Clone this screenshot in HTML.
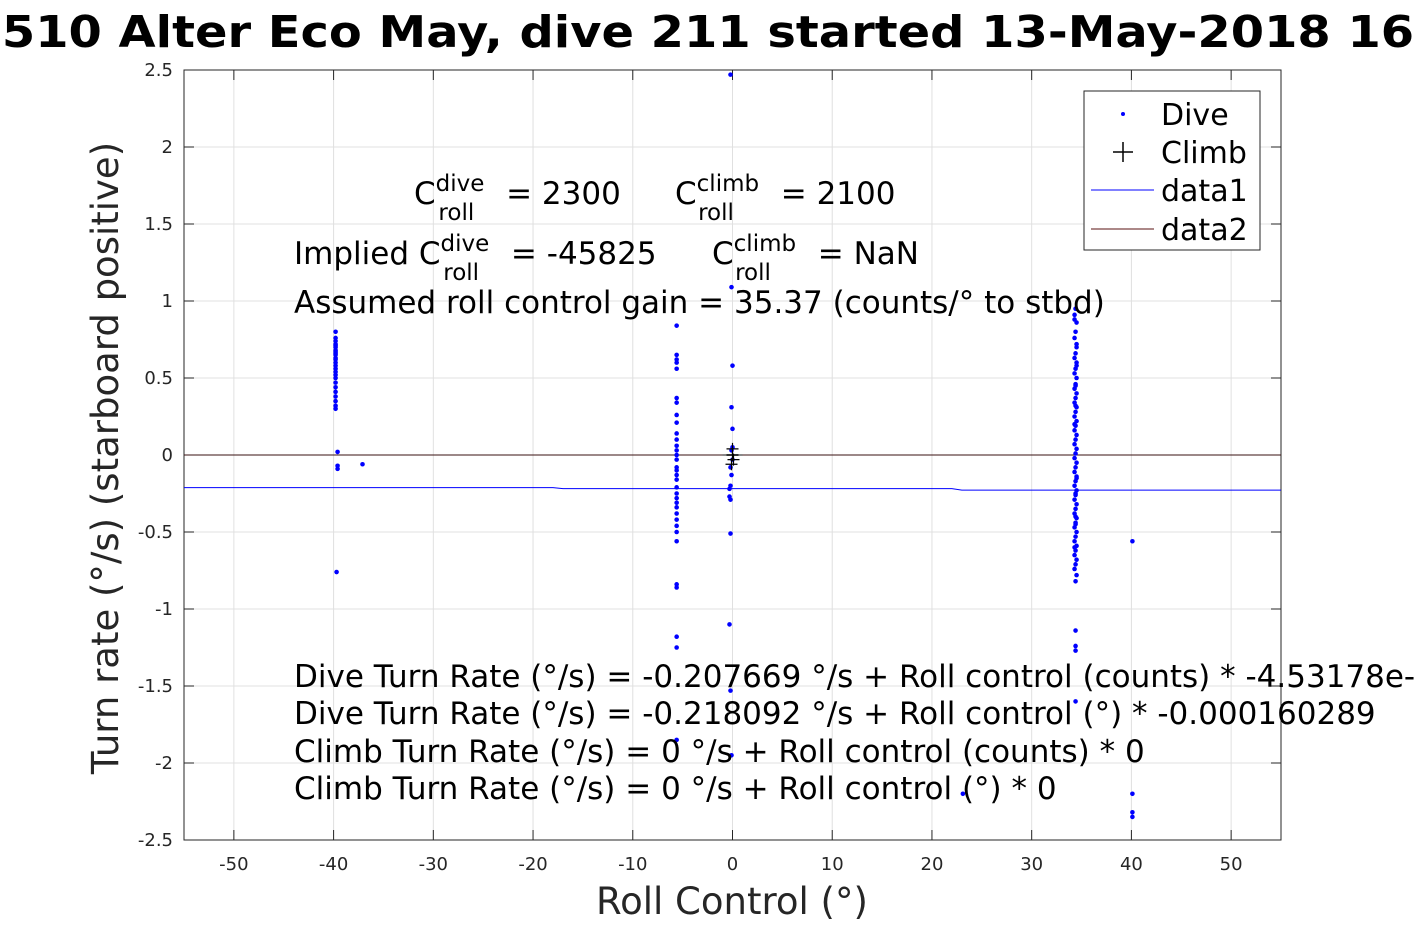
<!DOCTYPE html>
<html><head><meta charset="utf-8"><style>
html,body{margin:0;padding:0;background:#fff;width:1417px;height:945px;overflow:hidden}
svg{display:block;font-family:"DejaVu Sans","Liberation Sans",sans-serif}
</style></head><body>
<svg id="chart" width="1417" height="945" viewBox="0 0 1417 945" xmlns="http://www.w3.org/2000/svg">
<rect width="1417" height="945" fill="#fff"/>
<text x="-72" y="47" textLength="1572" lengthAdjust="spacingAndGlyphs" font-size="44" font-weight="bold" fill="#000">SG510 Alter Eco May, dive 211 started 13-May-2018 16:29</text>
<g id="grid"></g>
<g id="axes"></g>
<g id="marks"></g>
<g font-size="31" fill="#000">
<text x="414" y="204">C<tspan font-size="23" dy="-13">dive</tspan><tspan font-size="23" dx="-46" dy="29">roll</tspan><tspan dy="-16" dx="22"> = 2300</tspan></text>
<text x="675" y="204">C<tspan font-size="23" dy="-13">climb</tspan><tspan font-size="23" dx="-61" dy="29">roll</tspan><tspan dy="-16" dx="37"> = 2100</tspan></text>
<text x="294" y="264">Implied C<tspan font-size="23" dy="-13">dive</tspan><tspan font-size="23" dx="-46" dy="29">roll</tspan><tspan dy="-16" dx="22"> = -45825</tspan></text>
<text x="712" y="264">C<tspan font-size="23" dy="-13">climb</tspan><tspan font-size="23" dx="-61" dy="29">roll</tspan><tspan dy="-16" dx="37"> = NaN</tspan></text>
<text x="294" y="313">Assumed roll control gain = 35.37 (counts/° to stbd)</text>
<text x="294" y="687">Dive Turn Rate (°/s) = -0.207669 °/s + Roll control (counts) * -4.53178e-06</text>
<text x="294" y="724">Dive Turn Rate (°/s) = -0.218092 °/s + Roll control (°) * -0.000160289</text>
<text x="294" y="762">Climb Turn Rate (°/s) = 0 °/s + Roll control (counts) * 0</text>
<text x="294" y="799">Climb Turn Rate (°/s) = 0 °/s + Roll control (°) * 0</text>
</g>
<g>
<rect x="1084" y="91" width="176" height="159" fill="#fff" stroke="#262626" stroke-width="1"/>
<circle cx="1123" cy="114" r="2" fill="#0000ff"/>
<path d="M1113 152h20M1123 142v20" stroke="#000" stroke-width="1.5"/>
<line x1="1091" y1="190" x2="1154" y2="190" stroke="#0000ff"/>
<line x1="1091" y1="229" x2="1154" y2="229" stroke="#5a1010"/>
<g font-size="30" fill="#000">
<text x="1161" y="125">Dive</text><text x="1161" y="163">Climb</text>
<text x="1161" y="201">data1</text><text x="1161" y="240">data2</text></g>
</g>
<text x="732" y="914" text-anchor="middle" font-size="37" fill="#262626">Roll Control (°)</text>
<text transform="translate(118,458) rotate(-90)" text-anchor="middle" font-size="37" fill="#262626">Turn rate (°/s) (starboard positive)</text>
</svg>
<script>
const xTicks=[-50,-40,-30,-20,-10,0,10,20,30,40,50];
const yTicks=[-2.5,-2,-1.5,-1,-0.5,0,0.5,1,1.5,2,2.5];
const diveX=[
-39.8,-39.8,-39.8,-39.8,-39.8,-39.8,-39.8,-39.8,-39.8,-39.8,-39.8,-39.8,-39.8,-39.8,-39.8,-39.8,-39.8,-39.8,-39.8,-39.8,-39.8,-39.8,-39.8,-39.8,-39.8,-39.6,-39.6,-39.6,-39.7,-37.1,
-5.6,-5.6,-5.6,-5.6,-5.6,-5.6,-5.6,-5.6,-5.6,-5.6,-5.6,-5.6,-5.6,-5.6,-5.6,-5.6,-5.6,-5.6,-5.6,-5.6,-5.6,-5.6,-5.6,-5.6,-5.6,-5.6,-5.6,-5.6,-5.6,-5.6,-5.6,-5.6,-5.6,-5.6,
-0.2,-0.1,0,-0.1,0,0,-0.1,0,-0.2,-0.1,-0.2,-0.3,-0.3,-0.2,-0.2,-0.3,-0.2,-0.1,
34.4,34.3,34.5,34.4,34.3,34.5,34.4,34.3,34.5,34.4,34.3,34.5,34.4,34.3,34.5,34.4,34.3,34.5,34.4,34.3,34.5,34.4,34.3,34.5,34.4,34.3,34.5,34.4,34.3,34.5,34.4,34.3,34.5,34.4,34.3,34.5,34.4,34.3,34.5,34.4,34.3,34.5,34.4,34.3,34.5,34.4,34.3,34.5,34.4,34.3,34.5,34.4,34.3,34.5,34.4,34.3,34.5,34.4,34.3,34.5,34.4,34.3,34.5,34.4,34.4,34.4,34.4,34.4,34.4,34.4,
23.1,40.1,40.1,40.1,40.1];
const diveY=[
0.8,0.76,0.74,0.72,0.71,0.7,0.68,0.67,0.66,0.65,0.63,0.62,0.6,0.58,0.56,0.54,0.52,0.5,0.47,0.44,0.41,0.38,0.35,0.32,0.3,0.02,-0.07,-0.09,-0.76,-0.06,
0.84,0.65,0.62,0.6,0.56,0.37,0.34,0.26,0.21,0.14,0.1,0.06,0.03,0,-0.03,-0.08,-0.1,-0.13,-0.16,-0.21,-0.25,-0.28,-0.31,-0.34,-0.38,-0.42,-0.46,-0.5,-0.56,-0.84,-0.86,-1.18,-1.25,-1.85,
2.47,1.09,0.58,0.31,0.17,0.05,0.03,-0.03,-0.08,-0.13,-0.2,-0.22,-0.27,-0.29,-0.51,-1.1,-1.53,-1.95,
0.95,0.91,0.86,0.8,0.76,0.7,0.66,0.63,0.6,0.56,0.53,0.5,0.46,0.43,0.4,0.37,0.34,0.31,0.28,0.25,0.22,0.19,0.16,0.13,0.1,0.07,0.04,0.01,-0.02,-0.05,-0.08,-0.11,-0.14,-0.17,-0.2,-0.23,-0.26,-0.29,-0.32,-0.35,-0.38,-0.41,-0.44,-0.47,-0.5,-0.53,-0.56,-0.59,-0.62,-0.65,-0.68,-0.71,-0.74,-0.78,-0.82,0.88,0.72,0.45,0.2,-0.15,-0.4,-0.6,0.58,-0.25,
-1.14,-1.24,-1.27,-1.6,0.32,-0.45,
-2.2,-0.56,-2.2,-2.32,-2.35];
const climbX=[0,0,0.1,-0.1];
const climbY=[0.04,0,-0.03,-0.06];
const fitX=[-55,-18,-17,22,23,55];
const fitY=[-0.212,-0.212,-0.218,-0.218,-0.228,-0.228];
const zeroX=[-55,55];
const zeroY=[0,0];

const L=184,R=1281,T=70,B=840,xmin=-55,xmax=55,ymin=-2.5,ymax=2.5;
const sx=v=>L+(v-xmin)/(xmax-xmin)*(R-L);
const sy=v=>B-(v-ymin)/(ymax-ymin)*(B-T);
const NS='http://www.w3.org/2000/svg';
function mk(tag,attrs,parent){const e=document.createElementNS(NS,tag);for(const k in attrs)e.setAttribute(k,attrs[k]);parent.appendChild(e);return e;}
const grid=document.getElementById('grid'),axes=document.getElementById('axes'),marks=document.getElementById('marks');
mk('rect',{x:L,y:T,width:R-L,height:B-T,fill:'#fff'},grid);
xTicks.forEach(t=>{const g=mk('line',{x1:sx(t),x2:sx(t),y1:T,y2:B,stroke:'#e0e0e0'},grid);


const tx=mk('text',{x:sx(t),y:B+30,'text-anchor':'middle','font-size':18,fill:'#262626'},axes);tx.textContent=t;


mk('line',{x1:sx(t),x2:sx(t),y1:B,y2:B-10,stroke:'#262626'},axes);mk('line',{x1:sx(t),x2:sx(t),y1:T,y2:T+10,stroke:'#262626'},axes);});
yTicks.forEach(t=>{const g=mk('line',{x1:L,x2:R,y1:sy(t),y2:sy(t),stroke:'#e0e0e0'},grid);


const tx=mk('text',{x:L-11,y:sy(t)+6,'text-anchor':'end','font-size':18,fill:'#262626'},axes);tx.textContent=t;


mk('line',{x1:L,x2:L+10,y1:sy(t),y2:sy(t),stroke:'#262626'},axes);mk('line',{x1:R,x2:R-10,y1:sy(t),y2:sy(t),stroke:'#262626'},axes);});
mk('rect',{x:L,y:T,width:R-L,height:B-T,fill:'none',stroke:'#262626'},axes);
const fit=mk('polyline',{points:fitX.map((x,i)=>sx(x)+','+sy(fitY[i])).join(' '),fill:'none',stroke:'#0000ff','stroke-width':1},marks);


const zl=mk('polyline',{points:zeroX.map((x,i)=>sx(x)+','+sy(zeroY[i])).join(' '),fill:'none',stroke:'#3a1010','stroke-width':1},marks);


diveX.forEach((x,i)=>{const c=mk('circle',{cx:sx(x),cy:sy(diveY[i]),r:2.3,fill:'#0000ff'},marks);

});
mk('line',{x1:sx(-1),x2:sx(1),y1:sy(0),y2:sy(0),stroke:'#888','stroke-width':2},marks);
climbX.forEach((x,i)=>{const p=mk('path',{d:`M${sx(x)-6} ${sy(climbY[i])}h12M${sx(x)} ${sy(climbY[i])-6}v12`,stroke:'#000','stroke-width':1.2},marks);

});
</script>
</body></html>
